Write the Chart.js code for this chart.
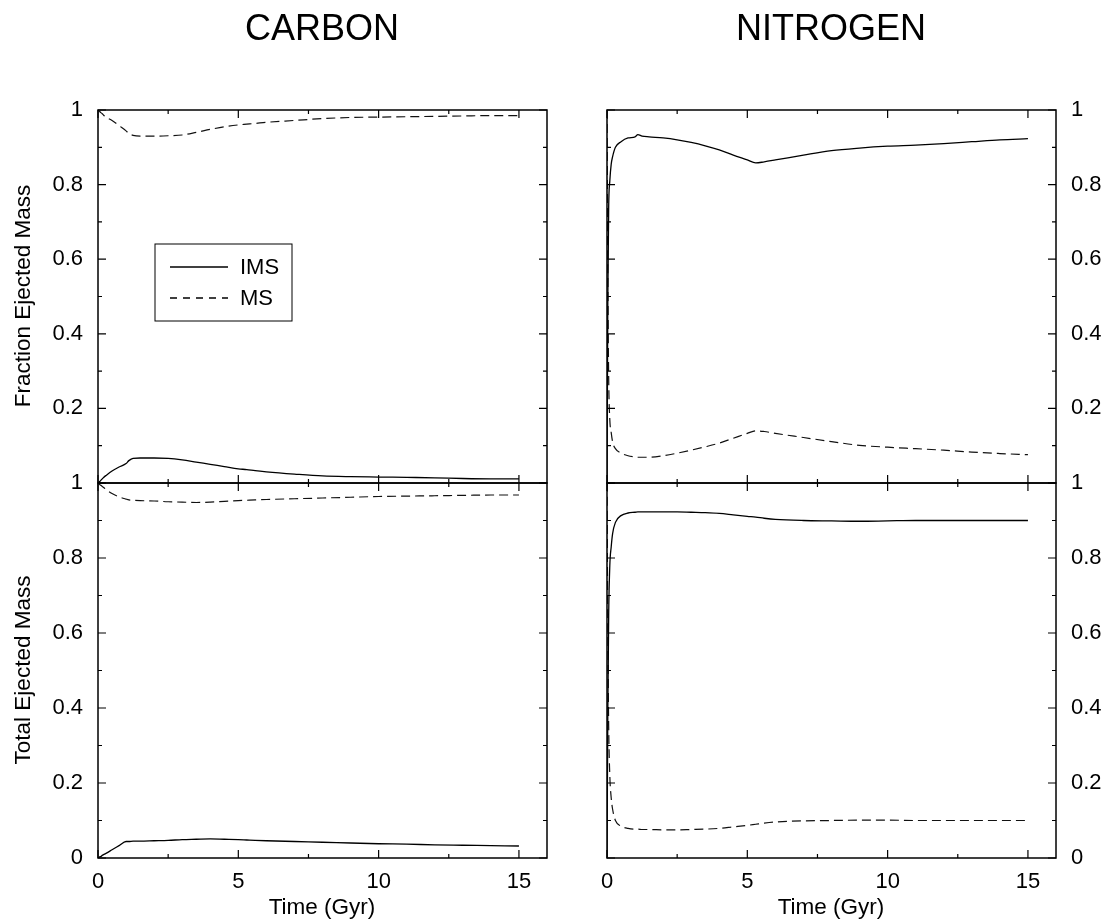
<!DOCTYPE html>
<html>
<head>
<meta charset="utf-8">
<title>Carbon / Nitrogen ejected mass</title>
<script src="https://cdn.jsdelivr.net/npm/chart.js@4.4.1/dist/chart.umd.min.js"></script>
<style>
    html, body {
        margin: 0;
        padding: 0;
        background: #fff;
    }
    body {
        width: 1108px;
        height: 924px;
        position: relative;
        overflow: hidden;
        font-family: 'Liberation Sans', Arial, Helvetica, sans-serif;
        color: #000;
    }
    canvas {
        position: absolute;
        left: 0;
        top: 0;
    }
    .label {
        position: absolute;
        white-space: nowrap;
        transform: translate(-50%, -50%);
        line-height: 1;
    }
    .panel-title { font-size: 36px; }
    .axis-title { font-size: 22.5px; }
    .axis-title.vertical { transform: translate(-50%, -50%) rotate(-90deg); }
</style>
</head>
<body>
<canvas id="carbonFraction" width="1108" height="924"></canvas>
<canvas id="carbonTotal" width="1108" height="924"></canvas>
<canvas id="nitrogenFraction" width="1108" height="924"></canvas>
<canvas id="nitrogenTotal" width="1108" height="924"></canvas>

<div class="label panel-title" style="left:322px; top:28px;">CARBON</div>
<div class="label panel-title" style="left:831px; top:28px;">NITROGEN</div>
<div class="label axis-title vertical" style="left:23px; top:296px;">Fraction Ejected Mass</div>
<div class="label axis-title vertical" style="left:23px; top:670px;">Total Ejected Mass</div>
<div class="label axis-title" style="left:322px; top:907px;">Time (Gyr)</div>
<div class="label axis-title" style="left:831px; top:907px;">Time (Gyr)</div>

<script>
'use strict';

// time grid (Gyr) shared by every curve
const times = [0, 0.03, 0.06, 0.1, 0.15, 0.2, 0.3, 0.5, 0.75, 1, 1.1, 1.25, 1.5, 2, 2.5, 3, 3.5, 4, 4.5, 5, 5.3, 5.6, 6, 7, 8, 9, 10, 11, 12, 13, 14, 15];

// carbon, fraction of ejected mass
const carbonFractionIMS = [0, 0.002, 0.004, 0.007, 0.011, 0.015, 0.021, 0.032, 0.043, 0.052, 0.060, 0.066, 0.067, 0.067, 0.066, 0.062, 0.056, 0.050, 0.044, 0.038, 0.036, 0.033, 0.030, 0.024, 0.019, 0.017, 0.016, 0.015, 0.014, 0.012, 0.011, 0.011];
const carbonFractionMS = [1, 0.998, 0.996, 0.993, 0.990, 0.986, 0.980, 0.972, 0.958, 0.944, 0.937, 0.932, 0.930, 0.930, 0.931, 0.933, 0.940, 0.948, 0.955, 0.960, 0.962, 0.964, 0.967, 0.972, 0.977, 0.980, 0.981, 0.982, 0.983, 0.984, 0.985, 0.985];

// carbon, total ejected mass
const carbonTotalIMS = [0, 0.001, 0.003, 0.004, 0.007, 0.009, 0.013, 0.022, 0.033, 0.044, 0.044, 0.045, 0.045, 0.046, 0.047, 0.049, 0.050, 0.051, 0.050, 0.049, 0.048, 0.047, 0.046, 0.044, 0.042, 0.040, 0.038, 0.037, 0.035, 0.034, 0.033, 0.032];
const carbonTotalMS = [1, 0.998, 0.996, 0.994, 0.991, 0.988, 0.982, 0.972, 0.963, 0.957, 0.955, 0.954, 0.953, 0.952, 0.950, 0.949, 0.948, 0.949, 0.951, 0.953, 0.954, 0.955, 0.956, 0.958, 0.960, 0.962, 0.964, 0.965, 0.966, 0.967, 0.968, 0.968];

// nitrogen, fraction of ejected mass
const nitrogenFractionIMS = [0, 0.50, 0.74, 0.81, 0.855, 0.875, 0.900, 0.915, 0.925, 0.928, 0.934, 0.930, 0.928, 0.925, 0.920, 0.913, 0.904, 0.893, 0.879, 0.866, 0.858, 0.861, 0.866, 0.879, 0.891, 0.898, 0.903, 0.906, 0.910, 0.915, 0.920, 0.923];
const nitrogenFractionMS = [1, 0.55, 0.28, 0.17, 0.135, 0.110, 0.092, 0.080, 0.073, 0.070, 0.069, 0.069, 0.069, 0.073, 0.080, 0.088, 0.097, 0.107, 0.120, 0.133, 0.140, 0.138, 0.133, 0.122, 0.111, 0.101, 0.096, 0.092, 0.088, 0.083, 0.079, 0.076];

// nitrogen, total ejected mass
const nitrogenTotalIMS = [0, 0.40, 0.65, 0.78, 0.83, 0.865, 0.895, 0.913, 0.920, 0.922, 0.923, 0.923, 0.923, 0.923, 0.923, 0.922, 0.921, 0.919, 0.915, 0.911, 0.909, 0.906, 0.903, 0.900, 0.899, 0.898, 0.899, 0.900, 0.900, 0.900, 0.900, 0.900];
const nitrogenTotalMS = [1, 0.60, 0.35, 0.22, 0.16, 0.13, 0.100, 0.085, 0.079, 0.077, 0.077, 0.076, 0.076, 0.075, 0.075, 0.076, 0.077, 0.079, 0.083, 0.087, 0.090, 0.093, 0.096, 0.099, 0.100, 0.101, 0.101, 0.100, 0.100, 0.100, 0.100, 0.100];

// tick positions
const xTickValues = [0, 2.5, 5, 7.5, 10, 12.5, 15];
const yTickValues = [0, 0.1, 0.2, 0.3, 0.4, 0.5, 0.6, 0.7, 0.8, 0.9, 1];
const seriesNames = ['IMS', 'MS'];

const FONT = "'Liberation Sans', Arial, Helvetica, sans-serif";
const DASH = [9, 5];
const Y_AXIS_WIDTH = 70;
const X_AXIS_HEIGHT = 40;

function toPoints(values) {
    return times.map((t, i) => ({ x: t, y: values[i] }));
}

function isMajorY(v) {
    return Math.round(v * 10) % 2 === 0;
}

function formatY(v) {
    if (v === 0) return '0';
    if (v === 1) return '1';
    return v.toFixed(1);
}

// frame, inward tick marks on all four sides, optional legend box
const framePlugin = {
    id: 'frame',
    afterDatasetsDraw(chart, args, opts) {
        const ctx = chart.ctx;
        const area = chart.chartArea;
        const xs = chart.scales.x;
        const ys = chart.scales.y;

        ctx.save();
        ctx.strokeStyle = '#000';
        ctx.lineWidth = 1.5;
        ctx.setLineDash([]);
        ctx.strokeRect(area.left, area.top, area.right - area.left, area.bottom - area.top);

        ctx.lineWidth = 1.2;
        ctx.beginPath();
        xTickValues.forEach((v) => {
            const px = xs.getPixelForValue(v);
            const len = v % 5 === 0 ? 8 : 4;
            ctx.moveTo(px, area.bottom);
            ctx.lineTo(px, area.bottom - len);
            ctx.moveTo(px, area.top);
            ctx.lineTo(px, area.top + len);
        });
        yTickValues.forEach((v) => {
            const py = ys.getPixelForValue(v);
            const len = isMajorY(v) ? 8 : 4;
            ctx.moveTo(area.left, py);
            ctx.lineTo(area.left + len, py);
            ctx.moveTo(area.right, py);
            ctx.lineTo(area.right - len, py);
        });
        ctx.stroke();

        if (opts && opts.legend) {
            const lx = area.left + 57;
            const ly = area.top + 134;
            ctx.lineWidth = 1;
            ctx.strokeRect(lx, ly, 137, 77);

            ctx.lineWidth = 1.3;
            ctx.beginPath();
            ctx.moveTo(lx + 15, ly + 23);
            ctx.lineTo(lx + 73, ly + 23);
            ctx.stroke();

            ctx.setLineDash([7, 6]);
            ctx.beginPath();
            ctx.moveTo(lx + 15, ly + 54);
            ctx.lineTo(lx + 73, ly + 54);
            ctx.stroke();
            ctx.setLineDash([]);

            ctx.fillStyle = '#000';
            ctx.font = '22px ' + FONT;
            ctx.textAlign = 'left';
            ctx.textBaseline = 'middle';
            ctx.fillText(seriesNames[0], lx + 85, ly + 24);
            ctx.fillText(seriesNames[1], lx + 85, ly + 55);
        }
        ctx.restore();
    }
};

function makePanel(canvasId, cfg) {
    const canvas = document.getElementById(canvasId);
    if (!canvas || typeof Chart === 'undefined') {
        return null;
    }

    // padding leaves room for the fixed-size axis boxes so the plot area lands exactly on cfg
    const padLeft = cfg.yPosition === 'left' ? cfg.left - Y_AXIS_WIDTH : cfg.left;
    const padRight = cfg.yPosition === 'right' ? 1108 - cfg.right - Y_AXIS_WIDTH : 1108 - cfg.right;

    return new Chart(canvas, {
        type: 'line',
        data: {
            datasets: [{
                label: seriesNames[0],
                data: toPoints(cfg.ims),
                borderColor: '#000',
                borderWidth: 1.3,
                pointRadius: 0,
                fill: false,
                cubicInterpolationMode: 'monotone'
            }, {
                label: seriesNames[1],
                data: toPoints(cfg.ms),
                borderColor: '#111',
                borderWidth: 1.2,
                borderDash: DASH,
                pointRadius: 0,
                fill: false,
                cubicInterpolationMode: 'monotone'
            }]
        },
        options: {
            responsive: false,
            animation: false,
            devicePixelRatio: 1,
            events: [],
            layout: {
                padding: {
                    left: padLeft,
                    right: padRight,
                    top: cfg.top,
                    bottom: 924 - cfg.bottom - X_AXIS_HEIGHT
                }
            },
            plugins: {
                legend: { display: false },
                tooltip: { enabled: false },
                frame: { legend: !!cfg.legend }
            },
            scales: {
                x: {
                    type: 'linear',
                    position: 'bottom',
                    min: 0,
                    max: 16,
                    afterFit: (scale) => {
                        scale.height = X_AXIS_HEIGHT;
                        scale.paddingLeft = 0;
                        scale.paddingRight = 0;
                    },
                    afterBuildTicks: (scale) => { scale.ticks = xTickValues.map((v) => ({ value: v })); },
                    grid: { display: false, drawTicks: false },
                    border: { display: false },
                    ticks: {
                        display: !!cfg.xLabels,
                        padding: 11,
                        color: '#000',
                        autoSkip: false,
                        maxRotation: 0,
                        font: { family: FONT, size: 22 },
                        callback: (v) => (v % 5 === 0 ? String(v) : '')
                    }
                },
                y: {
                    type: 'linear',
                    position: cfg.yPosition,
                    min: 0,
                    max: 1,
                    afterFit: (scale) => {
                        scale.width = Y_AXIS_WIDTH;
                        scale.paddingTop = 0;
                        scale.paddingBottom = 0;
                    },
                    afterBuildTicks: (scale) => { scale.ticks = yTickValues.map((v) => ({ value: v })); },
                    grid: { display: false, drawTicks: false },
                    border: { display: false },
                    ticks: {
                        padding: 15,
                        color: '#000',
                        autoSkip: false,
                        font: { family: FONT, size: 22 },
                        callback: (v) => {
                            if (!isMajorY(v)) return '';
                            if (cfg.hideZero && v === 0) return '';
                            return formatY(v);
                        }
                    }
                }
            }
        },
        plugins: [framePlugin]
    });
}

function initPanels() {
    const leftX = { left: 98, right: 547 };
    const rightX = { left: 607, right: 1056 };

    makePanel('carbonFraction', {
        left: leftX.left, right: leftX.right, top: 110, bottom: 483,
        ims: carbonFractionIMS, ms: carbonFractionMS,
        yPosition: 'left', hideZero: true, legend: true
    });
    makePanel('carbonTotal', {
        left: leftX.left, right: leftX.right, top: 483, bottom: 858,
        ims: carbonTotalIMS, ms: carbonTotalMS,
        yPosition: 'left', xLabels: true
    });
    makePanel('nitrogenFraction', {
        left: rightX.left, right: rightX.right, top: 110, bottom: 483,
        ims: nitrogenFractionIMS, ms: nitrogenFractionMS,
        yPosition: 'right', hideZero: true
    });
    makePanel('nitrogenTotal', {
        left: rightX.left, right: rightX.right, top: 483, bottom: 858,
        ims: nitrogenTotalIMS, ms: nitrogenTotalMS,
        yPosition: 'right', xLabels: true
    });
}

if (document.readyState === 'loading') {
    document.addEventListener('DOMContentLoaded', initPanels);
} else {
    initPanels();
}
</script>
</body>
</html>
